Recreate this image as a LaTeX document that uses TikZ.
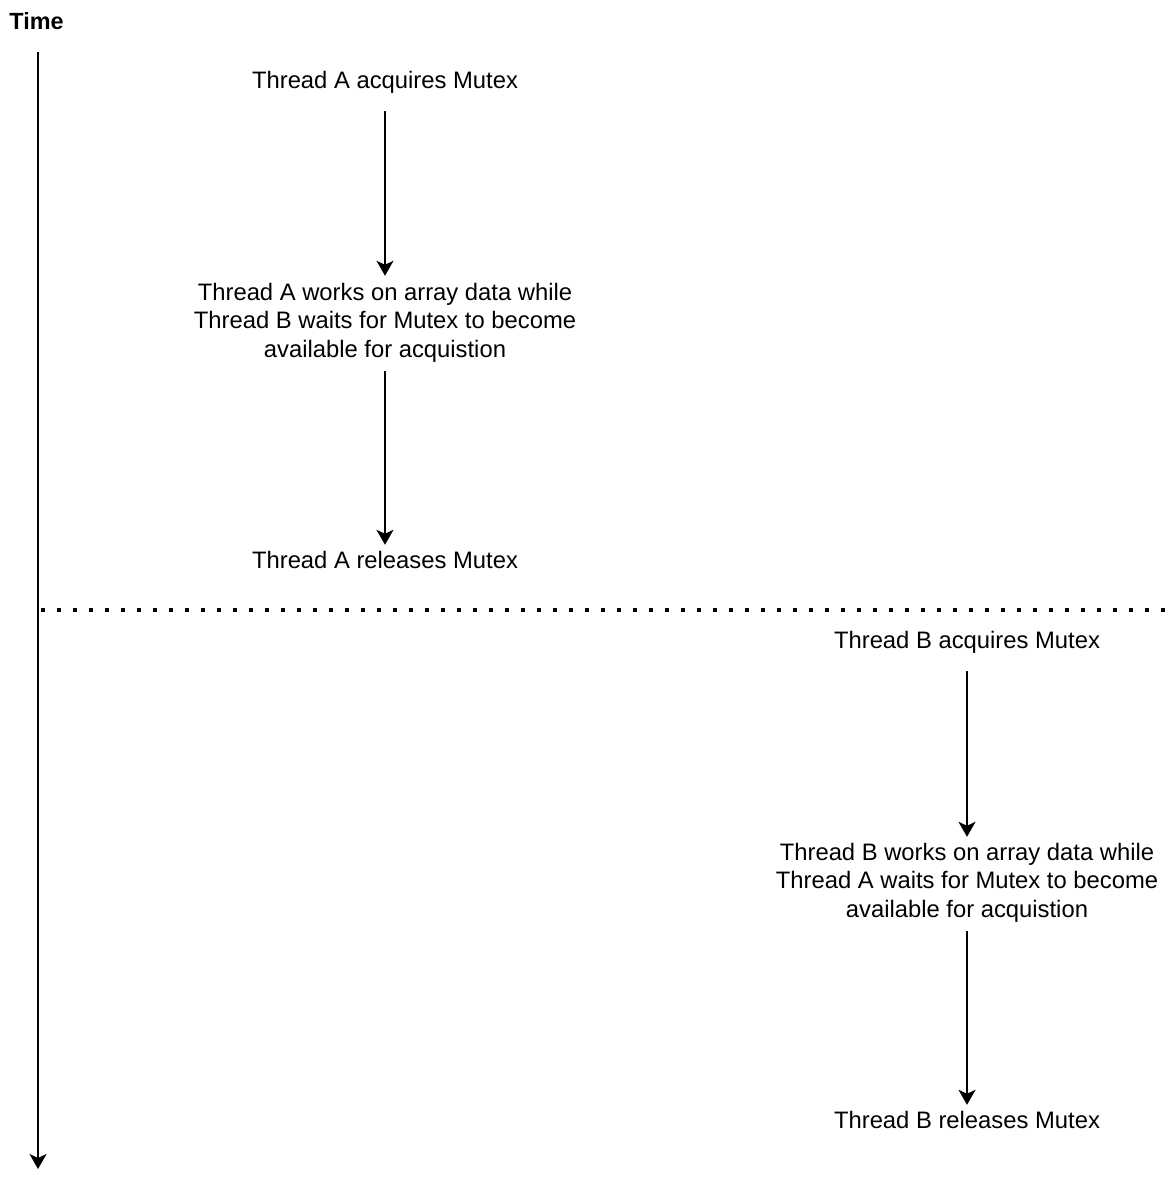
\documentclass[tikz,border=0pt]{standalone}
\usepackage{fontspec}
\setmainfont{Liberation Sans}
\usetikzlibrary{arrows.meta}
\begin{document}
\begin{tikzpicture}[x=1pt,y=-1pt,
  lbl/.style={font=\fontsize{23.8}{28.6}\selectfont, inner sep=0pt, align=center, minimum height=35pt},
  endlbl/.style={lbl, minimum height=30pt},
  multi/.style={lbl, minimum height=93pt},
  arr/.style={line width=2pt, -{Stealth[length=15pt,width=17pt,inset=4pt]}},
  dotline/.style={line width=3.5pt, dash pattern=on 3.5pt off 12.5pt}]
\useasboundingbox (0,0) rectangle (1168,1178);
\node[font=\fontsize{23.4}{27}\selectfont\bfseries, inner sep=0pt] (time) at (36.5,21) {Time};
\coordinate (tstart) at (38,52);
\coordinate (tend) at (38,1169);
\draw[arr] (tstart) -- (tend);
\coordinate (d1) at (41,610);
\coordinate (d2) at (1168,610);
\draw[dotline] (d1) -- (d2);
% Thread A
\node[lbl] (a1) at (385,82) {Thread A acquires Mutex};
\node[multi] (a2) at (385,322.5) {Thread A works on array data while\\Thread B waits for Mutex to become\\available for acquistion};
\node[endlbl] (a3) at (385,560) {Thread A releases Mutex};
\draw[arr, shorten <=11.5pt] (a1.south) -- (a2.north);
\draw[arr, shorten <=2pt] (a2.south) -- (a3.north);
% Thread B
\node[lbl] (b1) at (967,642) {Thread B acquires Mutex};
\node[multi] (b2) at (967,882.5) {Thread B works on array data while\\Thread A waits for Mutex to become\\available for acquistion};
\node[endlbl] (b3) at (967,1120) {Thread B releases Mutex};
\draw[arr, shorten <=11.5pt] (b1.south) -- ([yshift=-1pt]b2.north);
\draw[arr, shorten <=2pt] (b2.south) -- (b3.north);
\end{tikzpicture}
\end{document}
